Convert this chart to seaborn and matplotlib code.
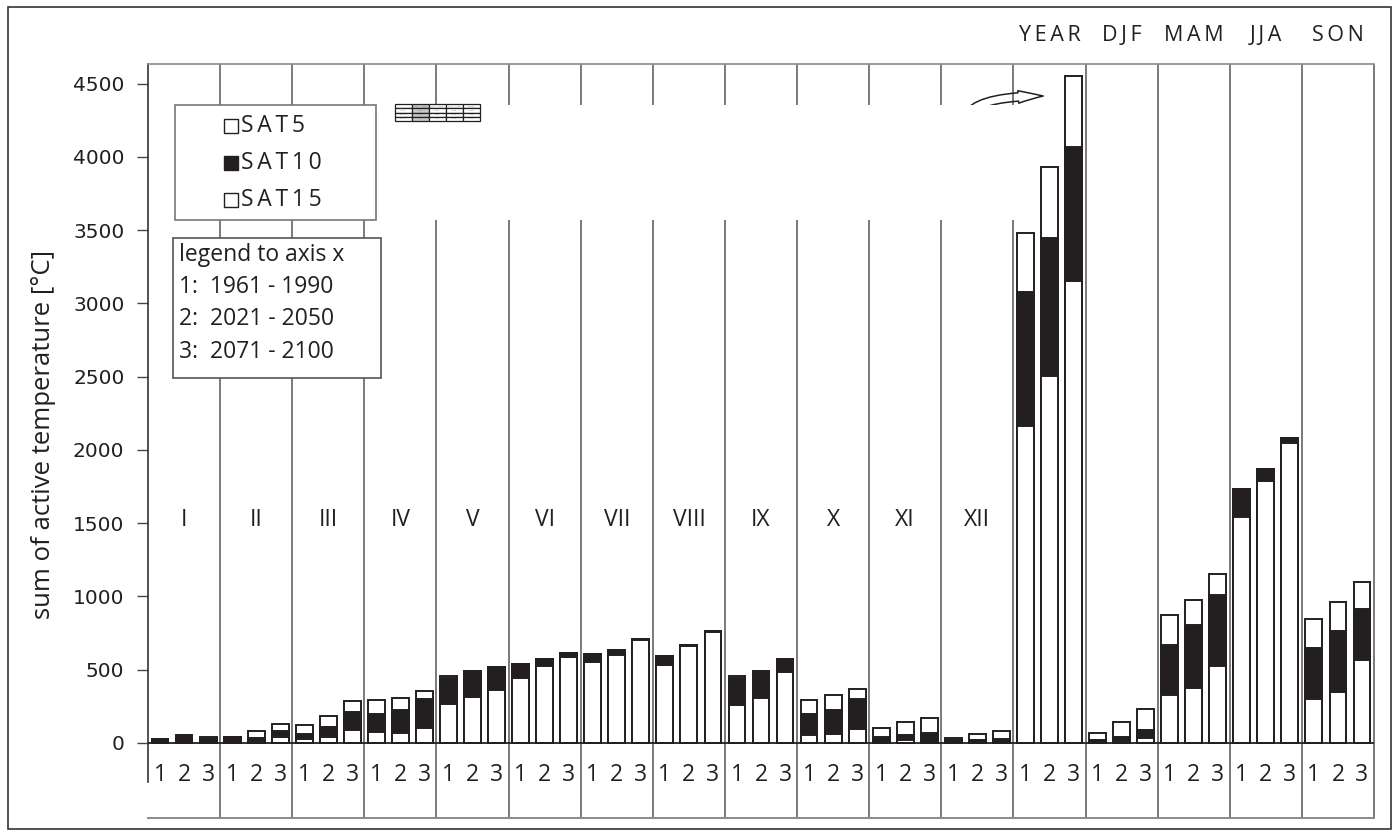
import numpy as np
import pandas as pd
import matplotlib
matplotlib.use("Agg")
import matplotlib.pyplot as plt
import seaborn as sns
from matplotlib.patches import Rectangle, FancyArrowPatch, ArrowStyle

# ---- data -------------------------------------------------------------
groups = ["I", "II", "III", "IV", "V", "VI", "VII", "VIII", "IX", "X", "XI", "XII",
          "YEAR", "DJF", "MAM", "JJA", "SON"]
periods = ["1", "2", "3"]
period_names = ["1961 - 1990", "2021 - 2050", "2071 - 2100"]
series = ["SAT5", "SAT10", "SAT15"]

# sums of active temperature [°C], three periods per group
sat5 = [28, 52, 43,   43, 84, 130,   125, 182, 287,   291, 307, 355,
        460, 494, 519,   540, 576, 612,   606, 633, 713,   594, 669, 765,
        455, 494, 572,   291, 328, 369,   102, 143, 168,   32, 61, 82,
        3480, 3930, 4550,   66, 141, 232,   870, 975, 1152,
        1733, 1872, 2081,   843, 961, 1100]
sat10 = [27, 50, 28,   41, 34, 84,   59, 109, 212,   196, 228, 300,
         442, 494, 519,   540, 576, 612,   606, 633, 713,   594, 669, 765,
         443, 494, 572,   200, 228, 298,   41, 57, 68,   20, 23, 27,
         3075, 3448, 4070,   23, 39, 91,   672, 804, 1013,
         1733, 1872, 2081,   651, 763, 911]
sat15 = [0, 0, 8,   0, 15, 39,   25, 41, 89,   75, 66, 100,
         266, 312, 362,   444, 526, 590,   553, 599, 706,   533, 660, 754,
         257, 310, 483,   52, 59, 96,   5, 23, 0,   0, 0, 0,
         2165, 2507, 3150,   0, 11, 36,   330, 373, 528,
         1539, 1785, 2049,   303, 348, 565]

slots = [f"{g}-{p}" for g in groups for p in periods]
df = pd.DataFrame({"slot": slots, "SAT5": sat5, "SAT10": sat10, "SAT15": sat15})

# ---- style ------------------------------------------------------------
sns.set_theme(style="white")
plt.rcParams["font.family"] = ["Open Sans", "DejaVu Sans"]
INK = "#231f20"
SEP = "#707070"

W, H = 1399, 836
fig = plt.figure(figsize=(W / 100, H / 100), dpi=100)


def fx(p):
    return p / W


def fy(p):
    return 1 - p / H


def spaced(s):
    return "\u2009".join(s)


ax = fig.add_axes([fx(148), fy(818), fx(1374) - fx(148), fy(64) - fy(818)])

# overlapping bars: SAT5 behind, SAT10 in the middle, SAT15 in front
for col, face, z in [("SAT5", "white", 3), ("SAT10", INK, 4), ("SAT15", "white", 5)]:
    sns.barplot(data=df, x="slot", y=col, order=slots, color=face, saturation=1,
                width=0.7, edgecolor=INK, linewidth=1.4, errorbar=None,
                ax=ax, zorder=z)

# vertical scale: 0 and 4500 placement inside the frame
upp = 4500 / (743 - 83.5)
ymax = (743 - 64) * upp
ymin = -(818 - 743) * upp
ax.set_ylim(ymin, ymax)
ax.set_xlim(-0.5, len(slots) - 0.5)
ax.set_yticks(np.arange(0, 4501, 500))
ax.set_xticks([])
ax.set_xlabel("")
ax.set_ylabel("")
ax.tick_params(axis="y", left=True, direction="out", length=8, width=1,
               color="#444444", labelsize=14.5, pad=9, labelcolor=INK)
for lbl in ax.get_yticklabels():
    lbl.set_family("DejaVu Sans")

ax.spines["left"].set_bounds(-(782 - 743) * upp, ymax)
ax.spines["left"].set_color("#333333")
ax.spines["left"].set_linewidth(1.2)
ax.spines["top"].set_color("#8a8a8a")
ax.spines["top"].set_linewidth(1.2)
ax.spines["bottom"].set_color("#8a8a8a")
ax.spines["bottom"].set_linewidth(1.4)
ax.spines["right"].set_visible(False)

ax.axhline(0, color=INK, lw=1.3, zorder=6)

# group separators
n_per = len(periods)
bounds = [n_per * g - 0.5 for g in range(1, len(groups) + 1)]
ax.vlines(bounds, ymin, ymax, color=SEP, lw=1.3, zorder=1, clip_on=False)

# group names
for g, name in enumerate(groups):
    xc = n_per * g + 1
    if g < 12:
        ax.text(xc, 1520, name, ha="center", va="center", fontsize=16.5, color=INK)
    else:
        ax.text(xc, (743 - 35) * upp, spaced(name), ha="center", va="center",
                fontsize=15.5, color=INK, clip_on=False)

# period numbers under each bar
for k, slot in enumerate(slots):
    ax.text(k, -(775 - 743) * upp, slot.split("-")[-1], ha="center", va="center",
            fontsize=16.5, color=INK)

# y axis title
fig.text(fx(44), fy(434), "sum of active temperature [°C]", rotation=90,
         ha="center", va="center", fontsize=18.5, color=INK)

# white panel behind the summary table and arrow
fig.add_artist(Rectangle((fx(386), fy(220)), fx(1016) - fx(386), fy(105) - fy(220),
                         transform=fig.transFigure, facecolor="white",
                         edgecolor="none", zorder=1.5))

# arrow pointing to the annual sums
arrow = FancyArrowPatch(posA=(fx(966), fy(122)), posB=(fx(1046), fy(96)),
                        transform=fig.transFigure,
                        connectionstyle="angle3,angleA=90,angleB=0",
                        arrowstyle=ArrowStyle("simple", head_length=18,
                                              head_width=9, tail_width=6),
                        facecolor="none", edgecolor=INK, lw=1.1, zorder=1.4)
fig.add_artist(arrow)

# series legend
fig.add_artist(Rectangle((fx(175), fy(220)), fx(376) - fx(175), fy(105) - fy(220),
                         transform=fig.transFigure, facecolor="white",
                         edgecolor="#777777", lw=1.2, zorder=2))
for i, (name, face) in enumerate(zip(series, ["white", INK, "white"])):
    yc = 126 + 37 * i
    fig.add_artist(Rectangle((fx(224), fy(yc + 7)), fx(238) - fx(224),
                             fy(yc - 7) - fy(yc + 7), transform=fig.transFigure,
                             facecolor=face, edgecolor=INK, lw=1.0, zorder=3))
    fig.text(fx(241), fy(yc), spaced(name), ha="left", va="center",
             fontsize=16.5, color=INK, zorder=4)

# period legend
fig.add_artist(Rectangle((fx(173), fy(378)), fx(381) - fx(173), fy(238) - fy(378),
                         transform=fig.transFigure, facecolor="white",
                         edgecolor="#555555", lw=1.2, zorder=2))
lines = ["legend to axis x"] + [f"{p}:  {n}" for p, n in zip(periods, period_names)]
for txt, yc in zip(lines, [255, 287, 319, 352]):
    fig.text(fx(179), fy(yc), txt, ha="left", va="center", fontsize=16.5,
             color=INK, zorder=4)

# miniature table of annual sums
tax = fig.add_axes([fx(395), fy(121), fx(480) - fx(395), fy(104) - fy(121)])
tax.set_zorder(5)
tax.axis("off")
year_idx = groups.index("YEAR") * n_per
rows = []
for name, vals in zip(series, [sat5, sat10, sat15]):
    v = vals[year_idx:year_idx + n_per]
    rows.append([name] + [str(x) for x in v] + [f"+{v[-1] - v[0]}"])
tbl = tax.table(cellText=rows, colLabels=[""] + period_names + ["change"],
                bbox=[0, 0, 1, 1], cellLoc="center")
tbl.auto_set_font_size(False)
for (r, c), cell in tbl.get_celld().items():
    cell.set_linewidth(0.9)
    cell.set_edgecolor(INK)
    cell.get_text().set_fontsize(1.6)
    cell.get_text().set_color("#888888")
    if c == 1:
        cell.set_facecolor("#c8c8c8")

# outer frame
fig.add_artist(Rectangle((fx(8), fy(829)), fx(1391) - fx(8), fy(7) - fy(829),
                         transform=fig.transFigure, facecolor="none",
                         edgecolor="#333333", lw=1.2, zorder=0.5))

fig.savefig("out.png", dpi=100)
